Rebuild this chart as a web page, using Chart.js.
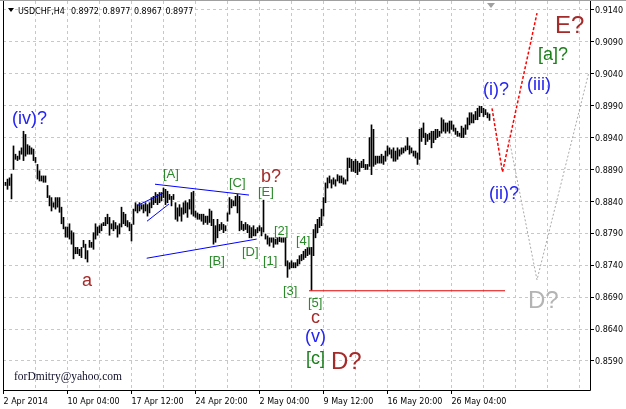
<!DOCTYPE html>
<html>
<head>
<meta charset="utf-8">
<title>USDCHF H4</title>
<script src="https://cdn.jsdelivr.net/npm/chart.js@4.4.0/dist/chart.umd.min.js"></script>
<style>
html, body { margin: 0; padding: 0; background: #fff; }
#wrap { width: 626px; height: 409px; position: relative; }
</style>
</head>
<body>
<div id="wrap"><canvas id="myChart"></canvas></div>
<script>
// header line of the chart window
var symbolName = 'USDCHF,H4';
var lastQuote = ['0.8972', '0.8977', '0.8967', '0.8977'];
var signature = 'forDmitry@yahoo.com';

// H4 bars, first one is bar #1
var firstBar = 1;
var highs = [
	0.8870, 0.8875, 0.8877, 0.8883, 0.8927, 0.8914, 0.8911, 0.8919, 0.8924, 0.8950,
	0.8945, 0.8929, 0.8927, 0.8924, 0.8922, 0.8909, 0.8898, 0.8888, 0.8880, 0.8880,
	0.8880, 0.8865, 0.8849, 0.8846, 0.8838, 0.8846, 0.8846, 0.8846, 0.8831, 0.8815,
	0.8800, 0.8800, 0.8805, 0.8794, 0.8791, 0.8768, 0.8768, 0.8765, 0.8768, 0.8779,
	0.8773, 0.8763, 0.8779, 0.8776, 0.8791, 0.8805, 0.8800, 0.8802, 0.8805, 0.8807,
	0.8815, 0.8820, 0.8815, 0.8805, 0.8810, 0.8807, 0.8802, 0.8805, 0.8831, 0.8823,
	0.8820, 0.8810, 0.8807, 0.8804, 0.8828, 0.8838, 0.8835, 0.8838, 0.8835, 0.8835,
	0.8838, 0.8835, 0.8838, 0.8846, 0.8848, 0.8854, 0.8851, 0.8854, 0.8854, 0.8861,
	0.8859, 0.8856, 0.8851, 0.8848, 0.8851, 0.8838, 0.8830, 0.8835, 0.8830, 0.8838,
	0.8841, 0.8838, 0.8843, 0.8854, 0.8856, 0.8825, 0.8822, 0.8820, 0.8820, 0.8820,
	0.8817, 0.8817, 0.8828, 0.8825, 0.8812, 0.8802, 0.8812, 0.8804, 0.8807, 0.8804,
	0.8802, 0.8822, 0.8846, 0.8843, 0.8841, 0.8848, 0.8851, 0.8848, 0.8809, 0.8804,
	0.8807, 0.8804, 0.8802, 0.8799, 0.8802, 0.8796, 0.8799, 0.8802, 0.8799, 0.8842,
	0.8789, 0.8786, 0.8783, 0.8783, 0.8783, 0.8781, 0.8783, 0.8784, 0.8783, 0.8783,
	0.8783, 0.8747, 0.8744, 0.8747, 0.8744, 0.8744, 0.8749, 0.8755, 0.8757, 0.8762,
	0.8765, 0.8768, 0.8768, 0.8768, 0.8796, 0.8804, 0.8812, 0.8815, 0.8828, 0.8846,
	0.8869, 0.8877, 0.8880, 0.8874, 0.8877, 0.8874, 0.8882, 0.8880, 0.8880, 0.8877,
	0.8874, 0.8908, 0.8908, 0.8906, 0.8903, 0.8906, 0.8903, 0.8900, 0.8903, 0.8906,
	0.8898, 0.8898, 0.8940, 0.8960, 0.8953, 0.8911, 0.8911, 0.8911, 0.8914, 0.8911,
	0.8919, 0.8927, 0.8924, 0.8921, 0.8924, 0.8919, 0.8924, 0.8921, 0.8924, 0.8924,
	0.8927, 0.8940, 0.8927, 0.8924, 0.8919, 0.8919, 0.8916, 0.8953, 0.8955, 0.8963,
	0.8947, 0.8945, 0.8947, 0.8950, 0.8950, 0.8953, 0.8953, 0.8950, 0.8971, 0.8968,
	0.8963, 0.8963, 0.8966, 0.8966, 0.8960, 0.8955, 0.8950, 0.8947, 0.8958, 0.8955,
	0.8960, 0.8971, 0.8979, 0.8979, 0.8976, 0.8981, 0.8986, 0.8989, 0.8989, 0.8986,
	0.8984, 0.8979, 0.8977
];
var lows = [
	0.8865, 0.8859, 0.8865, 0.8844, 0.8890, 0.8906, 0.8904, 0.8906, 0.8914, 0.8904,
	0.8911, 0.8914, 0.8914, 0.8914, 0.8904, 0.8901, 0.8875, 0.8872, 0.8872, 0.8870,
	0.8870, 0.8846, 0.8833, 0.8825, 0.8831, 0.8828, 0.8831, 0.8823, 0.8805, 0.8797,
	0.8784, 0.8784, 0.8781, 0.8773, 0.8750, 0.8758, 0.8758, 0.8755, 0.8752, 0.8768,
	0.8750, 0.8745, 0.8768, 0.8768, 0.8765, 0.8781, 0.8787, 0.8791, 0.8794, 0.8802,
	0.8802, 0.8805, 0.8787, 0.8797, 0.8794, 0.8797, 0.8784, 0.8789, 0.8800, 0.8805,
	0.8802, 0.8800, 0.8794, 0.8778, 0.8804, 0.8825, 0.8822, 0.8825, 0.8828, 0.8822,
	0.8825, 0.8817, 0.8822, 0.8830, 0.8835, 0.8838, 0.8835, 0.8838, 0.8841, 0.8846,
	0.8835, 0.8838, 0.8843, 0.8833, 0.8843, 0.8812, 0.8809, 0.8817, 0.8809, 0.8820,
	0.8822, 0.8815, 0.8828, 0.8820, 0.8817, 0.8815, 0.8812, 0.8812, 0.8809, 0.8804,
	0.8807, 0.8804, 0.8807, 0.8802, 0.8773, 0.8776, 0.8783, 0.8794, 0.8796, 0.8791,
	0.8794, 0.8809, 0.8820, 0.8830, 0.8833, 0.8833, 0.8822, 0.8794, 0.8796, 0.8794,
	0.8796, 0.8791, 0.8783, 0.8783, 0.8786, 0.8786, 0.8791, 0.8794, 0.8786, 0.8792,
	0.8781, 0.8773, 0.8770, 0.8776, 0.8768, 0.8773, 0.8773, 0.8777, 0.8776, 0.8776,
	0.8739, 0.8721, 0.8734, 0.8736, 0.8736, 0.8736, 0.8739, 0.8742, 0.8747, 0.8749,
	0.8752, 0.8755, 0.8757, 0.8701, 0.8755, 0.8783, 0.8791, 0.8799, 0.8802, 0.8817,
	0.8838, 0.8861, 0.8869, 0.8861, 0.8867, 0.8864, 0.8872, 0.8869, 0.8869, 0.8867,
	0.8867, 0.8872, 0.8893, 0.8887, 0.8887, 0.8885, 0.8882, 0.8887, 0.8893, 0.8893,
	0.8890, 0.8890, 0.8895, 0.8882, 0.8895, 0.8898, 0.8900, 0.8900, 0.8900, 0.8898,
	0.8903, 0.8911, 0.8914, 0.8908, 0.8903, 0.8903, 0.8906, 0.8911, 0.8914, 0.8916,
	0.8919, 0.8921, 0.8914, 0.8916, 0.8911, 0.8908, 0.8898, 0.8906, 0.8934, 0.8940,
	0.8929, 0.8934, 0.8937, 0.8924, 0.8932, 0.8937, 0.8940, 0.8942, 0.8947, 0.8950,
	0.8947, 0.8950, 0.8947, 0.8953, 0.8950, 0.8945, 0.8942, 0.8942, 0.8940, 0.8940,
	0.8945, 0.8953, 0.8960, 0.8963, 0.8963, 0.8968, 0.8968, 0.8973, 0.8979, 0.8973,
	0.8976, 0.8971, 0.8967
];

// axes
var priceTicks = [0.8590, 0.8640, 0.8690, 0.8740, 0.8790, 0.8840, 0.8890, 0.8940, 0.8990, 0.9040, 0.9090, 0.9140];
var gridBars = [0, 16, 32, 48, 64, 80, 96, 112, 128, 144, 160, 176, 192, 208, 224, 240, 256, 272, 288];
var timeTickBars = [0, 32, 64, 96, 128, 160, 192, 224];
var timeTickLabels = ['2 Apr 2014', '10 Apr 04:00', '17 Apr 12:00', '24 Apr 20:00', '2 May 04:00', '9 May 12:00', '16 May 20:00', '26 May 04:00'];

// wave marks: text, bar, price (baseline), colour, size
var waveLabels = [
	['(iv)?', 4.25, 0.8961, '#2424f0', 18],
	['a', 39.25, 0.8707, '#a52a2a', 18],
	['[A]', 79.75, 0.8876, '#2a8a2a', 13],
	['[B]', 102.75, 0.8741, '#2a8a2a', 13],
	['[C]', 112.75, 0.8863, '#2a8a2a', 13],
	['[D]', 119.25, 0.8754, '#2a8a2a', 13],
	['[E]', 127.25, 0.8848, '#2a8a2a', 13],
	['b?', 128.75, 0.8871, '#a52a2a', 18],
	['[1]', 129.75, 0.8740, '#2a8a2a', 13],
	['[2]', 135.25, 0.8788, '#2a8a2a', 13],
	['[3]', 139.75, 0.8694, '#2a8a2a', 13],
	['[4]', 146.25, 0.8772, '#2a8a2a', 13],
	['[5]', 152.25, 0.8674, '#2a8a2a', 13],
	['c', 153.75, 0.8649, '#a52a2a', 18],
	['(v)', 150.75, 0.8620, '#2424f0', 18],
	['[c]', 151.25, 0.8585, '#1a7f1a', 18],
	['D?', 163.75, 0.8577, '#a52a2a', 24],
	['(i)?', 239.75, 0.9007, '#2424f0', 18],
	['(iii)', 261.75, 0.9015, '#2424f0', 18],
	['(ii)?', 242.75, 0.8844, '#2424f0', 18],
	['[a]?', 267.25, 0.9062, '#1a7f1a', 18],
	['E?', 275.75, 0.9104, '#a52a2a', 24],
	['D?', 262.25, 0.8673, '#b4b4b4', 24]
];

// drawn lines: points as [bar, price]
var trendLines = [
	{ pts: [[75.75, 0.8867], [122.75, 0.8850]], color: '#0000ff', width: 1, dash: [] },
	{ pts: [[71.6, 0.8751], [126.6, 0.8781]], color: '#0000ff', width: 1, dash: [] },
	{ pts: [[67.25, 0.8834], [79.75, 0.8853]], color: '#0000ff', width: 1, dash: [] },
	{ pts: [[71.75, 0.8809], [82.75, 0.8836]], color: '#0000ff', width: 1, dash: [] },
	{ pts: [[152.75, 0.8700], [250.75, 0.8700]], color: '#e00000', width: 1, dash: [] },
	{ pts: [[244.25, 0.8986], [249.5, 0.8886], [266.75, 0.9135]], color: '#ff0000', width: 1.5, dash: [3, 2] },
	{ pts: [[253.0, 0.8935], [266.75, 0.8717], [292.5, 0.9040]], color: '#a8a8a8', width: 1, dash: [2, 2] }
];

var bars = [];
for (var i = 0; i < highs.length; i++) {
	bars.push({ x: firstBar + i, y: [lows[i], highs[i]] });
}

var extras = {
	id: 'extras',
	afterDatasetsDraw: function (chart) {
		var ctx = chart.ctx;
		var xs = chart.scales.x, ys = chart.scales.y;
		var a = chart.chartArea;
		ctx.save();
		ctx.beginPath();
		ctx.rect(a.left, a.top, a.right - a.left, a.bottom - a.top);
		ctx.clip();
		trendLines.forEach(function (l) {
			ctx.beginPath();
			ctx.strokeStyle = l.color;
			ctx.lineWidth = l.width;
			ctx.setLineDash(l.dash);
			l.pts.forEach(function (p, k) {
				var px = xs.getPixelForValue(p[0]), py = ys.getPixelForValue(p[1]);
				if (k === 0) ctx.moveTo(px, py); else ctx.lineTo(px, py);
			});
			ctx.stroke();
		});
		ctx.setLineDash([]);
		ctx.textBaseline = 'alphabetic';
		ctx.textAlign = 'left';
		waveLabels.forEach(function (w) {
			ctx.font = w[4] + 'px "Liberation Sans", Arial, sans-serif';
			ctx.fillStyle = w[3];
			ctx.fillText(w[0], xs.getPixelForValue(w[1]), ys.getPixelForValue(w[2]));
		});
		// title
		ctx.fillStyle = '#000';
		ctx.beginPath();
		ctx.moveTo(8, 8); ctx.lineTo(14, 8); ctx.lineTo(11, 12); ctx.closePath();
		ctx.fill();
		ctx.font = '8px "DejaVu Sans", sans-serif';
		var tx = 18;
		ctx.fillText(symbolName, tx, 14);
		tx += ctx.measureText(symbolName).width + 6;
		lastQuote.forEach(function (q) {
			ctx.fillText(q, tx, 14);
			tx += ctx.measureText(q).width + 3.5;
		});
		ctx.font = '11.5px "Liberation Serif", "Times New Roman", serif';
		ctx.fillStyle = '#10102a';
		ctx.fillText(signature, 14, 380);
		// chart shift marker
		var sx = xs.getPixelForValue(243.75);
		ctx.fillStyle = '#a0a0a0';
		ctx.beginPath();
		ctx.moveTo(sx - 4, a.top + 2); ctx.lineTo(sx + 4, a.top + 2); ctx.lineTo(sx, a.top + 7); ctx.closePath();
		ctx.fill();
		ctx.restore();
		// frame
		ctx.save();
		ctx.strokeStyle = '#000';
		ctx.lineWidth = 1;
		ctx.beginPath();
		ctx.moveTo(a.left + 0.5, a.top);
		ctx.lineTo(a.left + 0.5, a.bottom + 0.5);
		ctx.lineTo(a.right + 0.5, a.bottom + 0.5);
		ctx.lineTo(a.right + 0.5, a.top);
		ctx.stroke();
		ctx.strokeStyle = '#a0a0a0';
		ctx.beginPath();
		ctx.moveTo(0, 0.5); ctx.lineTo(chart.width, 0.5);
		ctx.stroke();
		ctx.restore();
	}
};

var axisFont = { family: 'DejaVu Sans', size: 8 };
var ctx = document.getElementById('myChart').getContext('2d');
var myChart = new Chart(ctx, {
	type: 'bar',
	data: {
		datasets: [{
			label: 'USDCHF',
			data: bars,
			backgroundColor: '#000',
			borderWidth: 0,
			barThickness: 1
		}]
	},
	options: {
		responsive: true,
		maintainAspectRatio: false,
		animation: false,
		devicePixelRatio: 1,
		layout: { padding: { left: 3, top: 1, right: 0, bottom: 0 } },
		plugins: { legend: { display: false }, tooltip: { enabled: false } },
		scales: {
			x: {
				type: 'linear',
				offset: false,
				min: -0.25,
				max: 293.25,
				afterBuildTicks: function (s) { s.ticks = gridBars.map(function (v) { return { value: v }; }); },
				afterFit: function (s) { s.height = 19; s.paddingLeft = 0; s.paddingRight = 0; },
				grid: {
					offset: false,
					color: '#c8c8c8',
					lineWidth: 1,
					tickLength: 4,
					tickColor: function (c) { return c.tick && timeTickBars.indexOf(c.tick.value) >= 0 ? '#000' : 'rgba(0,0,0,0)'; }
				},
				border: { display: false, dash: [3, 3] },
				ticks: {
					autoSkip: false,
					maxRotation: 0,
					align: 'start',
					padding: 3,
					color: '#000',
					font: axisFont,
					callback: function (v) {
						var k = timeTickBars.indexOf(v);
						return k >= 0 ? timeTickLabels[k] : '';
					}
				}
			},
			y: {
				position: 'right',
				min: 0.85445,
				max: 0.91541,
				afterBuildTicks: function (s) { s.ticks = priceTicks.map(function (v) { return { value: v }; }); },
				afterFit: function (s) { s.width = 36; s.paddingTop = 0; s.paddingBottom = 0; },
				grid: { color: '#c8c8c8', lineWidth: 1, tickLength: 4, tickColor: '#000' },
				border: { display: false, dash: [3, 3] },
				ticks: {
					padding: 1,
					labelOffset: 1,
					color: '#000',
					font: axisFont,
					callback: function (v) { return Number(v).toFixed(4); }
				}
			}
		}
	},
	plugins: [extras]
});
</script>
</body>
</html>
